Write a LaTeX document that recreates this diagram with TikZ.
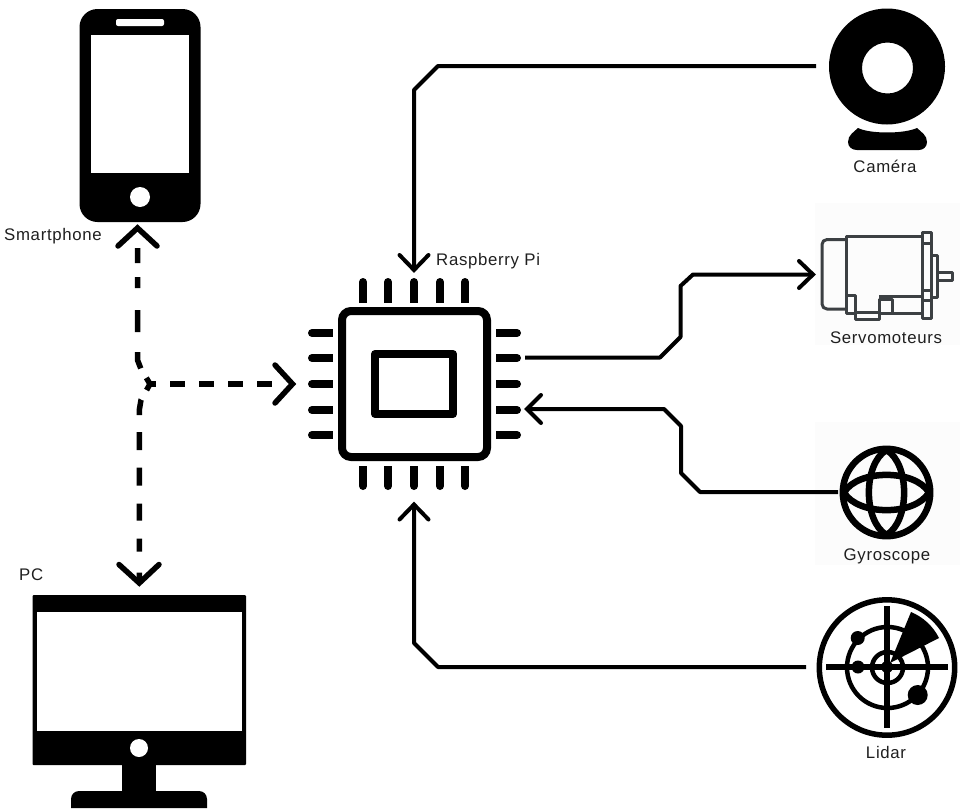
\documentclass[tikz,border=0pt]{standalone}
\usepackage{fontspec}
\setmainfont[LetterSpace=4]{Liberation Sans}
\definecolor{servogray}{HTML}{3C4043}
\definecolor{faintbg}{HTML}{FCFCFC}
\tikzset{
  x=1pt,y=-1pt,
  lbl/.style={inner sep=0pt,font=\fontsize{16.8}{18}\selectfont,text=black!88},
  wire/.style={line width=4pt,draw=black,line join=round},
  dwire/.style={line width=5.5pt,draw=black,line join=round},
  chev/.style={line width=4pt,draw=black,line cap=round,line join=miter,fill=none},
  dchev/.style={line width=5.5pt,draw=black,line cap=round,line join=miter,fill=none},
  pin/.style={line width=8pt,draw=black,line cap=round},
  servo/.style={line width=3pt,draw=servogray,line join=round},
  lens/.style={line width=6.5pt,draw=black,line join=bevel},
}
\begin{document}
\begin{tikzpicture}
\useasboundingbox (0,0) rectangle (960,811);
% faint image backgrounds
\fill[faintbg] (815,203) rectangle (960,345);
\fill[faintbg] (815,422) rectangle (960,565);
% phone
\fill[black,rounded corners=18pt] (79.5,9) rectangle (200.5,222);
\fill[white,rounded corners=2pt] (116,19) rectangle (164,26);
\fill[white] (91,35) rectangle (189,173);
\fill[white] (140,197) circle[radius=10];
% monitor
\fill[black,rounded corners=1pt] (32.5,595) rectangle (246,765);
\fill[white] (37,612) rectangle (241.5,731);
\fill[white] (139,748) circle[radius=9];
\fill[black] (122,765) rectangle (156,792);
\fill[black] (71,808) -- (71,799) arc[start angle=180,end angle=270,radius=8] -- (199,791) arc[start angle=270,end angle=360,radius=8] -- (207,808) -- cycle;
% chip
\draw[line width=8pt,rounded corners=9pt] (342,311) rectangle (487,457);
\draw[line width=8pt,line join=round] (375,354) rectangle (453,414);
\foreach \p in {363,388,414,440,465}{
  \draw[pin] (\p,282) -- (\p,298);
  \fill (\p-4,296) rectangle (\p+4,303);
  \draw[pin] (\p,486) -- (\p,470);
  \fill (\p-4,466) rectangle (\p+4,472);
}
\foreach \p in {333,358,384,410,435}{
  \draw[pin] (312,\p) -- (328,\p);
  \fill (327,\p-4) rectangle (333,\p+4);
  \draw[pin] (517,\p) -- (501,\p);
  \fill (496,\p-4) rectangle (502,\p+4);
}
% camera
\fill[black,even odd rule] (887,66.5) circle[radius=58] (887.5,68) circle[radius=25.5];
\fill[black] (858,128) .. controls (870,134) and (904,134) .. (917,128)
  .. controls (921,132) and (927,135) .. (927,142)
  .. controls (927,147) and (923,150) .. (919,150)
  -- (857,150) .. controls (852,150) and (848,147) .. (848,142)
  .. controls (848,135) and (854,132) .. (858,128) -- cycle;
% servomotor
\draw[servo] (846,239.5) -- (827,239.5) arc[start angle=270,end angle=180,radius=5] -- (822,304) arc[start angle=180,end angle=90,radius=5] -- (846,309);
\draw[servo] (846,295) -- (846,236) -- (922,236);
\draw[servo] (922,232) rectangle (931.5,318);
\draw[servo] (922,243) -- (931.5,243) (922,290) -- (931.5,290) (922,300) -- (931.5,300);
\draw[servo] (931.5,255) rectangle (937,297);
\draw[servo] (937,272) rectangle (952,280);
\draw[servo] (846,295) rectangle (855,313);
\draw[servo] (855,312) rectangle (879,319);
\draw[servo] (879,299) rectangle (892,313);
\draw[servo] (892,313) -- (922,313);
\draw[servo] (879,296) -- (922,296);
% gyroscope
\draw[line width=6.5pt] (886.5,492.5) circle[radius=43.7];
\draw[lens] (886.5,450) .. controls (863,464) and (863,521) .. (886.5,535)
  .. controls (910,521) and (910,464) .. (886.5,450) -- cycle;
\draw[lens] (844,492.5) .. controls (858,469) and (915,469) .. (929,492.5)
  .. controls (915,516) and (858,516) .. (844,492.5) -- cycle;
% lidar
\draw[line width=5.5pt] (887,667.5) circle[radius=67.7];
\draw[line width=4.5pt] (887.5,667.5) circle[radius=40.5];
\draw[line width=4.5pt] (887.5,667.5) circle[radius=15.5];
\draw[line width=5.5pt] (826,667) -- (948,667) (887,606) -- (887,728);
\fill[black] (890,663) -- (911,612) .. controls (923,617) and (933,626) .. (939,638) -- cycle;
\fill[black] (887,667) circle[radius=6];
\fill[black] (857.7,638) circle[radius=7];
\fill[black] (858,667) circle[radius=6.5];
\fill[black] (917.7,695) circle[radius=10];
% anchors
\coordinate (camOut) at (816,66);
\coordinate (piTop) at (414,270);
\coordinate (piBot) at (414,504.5);
\coordinate (piOutR) at (525,357.5);
\coordinate (servoIn) at (813,274.5);
\coordinate (gyroOut) at (838,492);
\coordinate (piInR) at (527,409);
\coordinate (lidarOut) at (806,667);
\coordinate (phoneIn) at (137.5,228);
\coordinate (pcIn) at (139.3,583);
\coordinate (piInL) at (292.5,384);
\coordinate (junction) at (150,384);
% connectors
\draw[wire] (camOut) -- (438,66) -- (414,90) -- (piTop);
\draw[chev] (399.5,255) -- (piTop) -- (428.5,255);
\draw[wire] (lidarOut) -- (438,667) -- (414,643) -- (piBot);
\draw[chev] (399.5,519.5) -- (piBot) -- (428.5,519.5);
\draw[wire] (piOutR) -- (660,357.5) -- (680.5,337) -- (680.5,286) -- (693,274.5) -- (servoIn);
\draw[chev] (799,261) -- (servoIn) -- (799,288);
\draw[wire] (gyroOut) -- (700,492) -- (681,473) -- (681,426) -- (664,409) -- (piInR);
\draw[chev] (541,395) -- (piInR) -- (541,423);
\draw[dwire,dash pattern=on 0pt off 20pt on 15pt off 14pt on 11pt off 22pt on 22pt off 20pt on 17pt off 11pt on 8pt off 20pt]
  (phoneIn) -- (137.5,360) -- (141,369) -- (junction);
\draw[dwire,dash pattern=on 7pt off 11pt on 15.5pt off 17.2pt on 18pt off 17.5pt on 18pt off 18pt on 17pt off 18pt on 13pt off 21pt on 10pt off 20pt]
  (junction) -- (141,400) -- (139.3,410) -- (pcIn);
\draw[dwire,dash pattern=on 6pt off 14pt on 15pt off 14pt on 15pt off 14pt on 15pt off 14pt on 15pt off 40pt]
  (junction) -- (piInL);
\draw[dchev] (118,246) -- (phoneIn) -- (157,246);
\draw[dchev] (119,564.5) -- (pcIn) -- (159,564.5);
\draw[dchev] (275,365) -- (piInL) -- (275,403);
% labels
\node[lbl,anchor=base west] (smart) at (4,240.5) {Smartphone};
\node[lbl,anchor=base west] (rpi) at (436,265) {Raspberry Pi};
\node[lbl,anchor=base] (cam) at (885,172) {Caméra};
\node[lbl,anchor=base] (srv) at (886,343) {Servomoteurs};
\node[lbl,anchor=base] (gyr) at (887,560) {Gyroscope};
\node[lbl,anchor=base] (lid) at (886,758) {Lidar};
\node[lbl,anchor=base west] (pc) at (19,580) {PC};
\end{tikzpicture}
\end{document}
